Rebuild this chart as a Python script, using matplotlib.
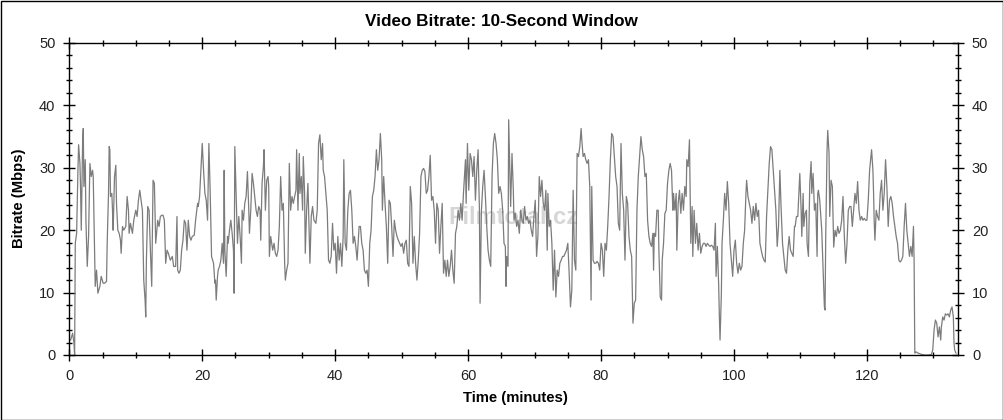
import matplotlib
matplotlib.use("Agg")
import matplotlib.pyplot as plt
from matplotlib.ticker import MultipleLocator
from matplotlib.patches import Rectangle

plt.rcParams['font.family'] = ['Liberation Sans', 'DejaVu Sans']

# bitrate samples (minutes, Mbps)
time_min = [
    0.2, 0.5, 0.7, 0.8, 0.9, 1.1, 1.3, 1.4, 1.6, 1.7,
    1.8, 2.0, 2.1, 2.2, 2.4, 2.5, 2.7, 2.9, 3.1, 3.3,
    3.5, 3.6, 3.7, 3.9, 4.1, 4.3, 4.6, 4.8, 5.1, 5.3,
    5.6, 5.7, 5.9, 6.0, 6.1, 6.2, 6.4, 6.5, 6.6, 6.8,
    7.0, 7.1, 7.3, 7.5, 7.7, 7.8, 8.0, 8.2, 8.5, 8.7,
    8.9, 9.0, 9.2, 9.5, 9.7, 10.0, 10.2, 10.4, 10.6, 10.8,
    11.0, 11.2, 11.4, 11.5, 11.6, 11.8, 12.0, 12.2, 12.4, 12.6,
    12.8, 13.0, 13.3, 13.5, 13.7, 13.9, 14.1, 14.3, 14.5, 14.7,
    14.9, 15.2, 15.5, 15.7, 16.0, 16.2, 16.3, 16.5, 16.7, 16.9,
    17.1, 17.3, 17.5, 17.7, 17.9, 18.1, 18.3, 18.5, 18.8, 19.0,
    19.3, 19.4, 19.6, 19.8, 20.0, 20.2, 20.4, 20.6, 20.8, 21.0,
    21.2, 21.4, 21.7, 21.9,
    22.0, 22.1, 22.3, 22.4, 22.6, 22.8, 23.0, 23.2, 23.3, 23.4,
    23.6, 23.8, 23.9, 24.1, 24.3, 24.5, 24.7, 24.8, 24.9, 25.1,
    25.3, 25.5, 25.7, 25.9, 26.0, 26.2, 26.4, 26.6, 26.8, 27.0,
    27.1, 27.3, 27.5, 27.7, 27.9, 28.1, 28.3, 28.5, 28.7, 28.8,
    29.0, 29.2, 29.3, 29.5, 29.7, 29.9, 30.0, 30.1, 30.3, 30.6,
    30.8, 31.0, 31.2, 31.4, 31.6, 31.8, 32.0, 32.2, 32.4, 32.5,
    32.7, 32.9, 33.1, 33.3, 33.5, 33.7, 33.9, 34.1, 34.2, 34.4,
    34.6, 34.7, 34.9, 35.1, 35.2, 35.4, 35.5, 35.7, 35.9, 36.1,
    36.2, 36.4, 36.6, 36.8, 37.1, 37.3, 37.5, 37.7, 37.9, 38.1,
    38.2, 38.4, 38.6, 38.8, 39.0, 39.2, 39.4, 39.6, 39.8, 40.0,
    40.2, 40.4, 40.6, 40.8, 41.0, 41.2, 41.3, 41.5, 41.7, 41.9,
    42.1, 42.3, 42.5, 42.7, 42.9, 43.1, 43.3, 43.6,
    43.8, 44.0, 44.2, 44.4, 44.6, 44.8, 45.0, 45.2, 45.4, 45.6,
    45.8, 46.0, 46.2, 46.4, 46.6, 46.8, 47.0, 47.1, 47.3, 47.5,
    47.7, 47.9, 48.1, 48.3, 48.5, 48.7, 48.9, 49.1, 49.3, 49.5,
    49.7, 49.9, 50.1, 50.3, 50.5, 50.7, 50.9, 51.1, 51.3, 51.5,
    51.7, 51.9, 52.1, 52.3, 52.5, 52.7, 52.9, 53.1, 53.3, 53.5,
    53.7, 53.9, 54.1, 54.3, 54.5, 54.7, 54.9, 55.1, 55.3, 55.5,
    55.7, 55.9, 56.1, 56.3, 56.5, 56.7, 56.9, 57.1, 57.3, 57.5,
    57.7, 57.9, 58.1, 58.3, 58.5, 58.7, 58.9, 59.1, 59.3, 59.6,
    59.7, 59.9, 60.1, 60.3, 60.5, 60.7, 60.9, 61.1, 61.3, 61.5,
    61.7, 61.8, 62.0, 62.2, 62.4, 62.6, 62.8, 63.0, 63.2, 63.4,
    63.6, 63.8, 64.0, 64.2, 64.4, 64.6, 64.8, 65.0, 65.2, 65.4,
    65.6,
    65.7, 65.8, 66.0, 66.1, 66.3, 66.4, 66.6, 66.8, 66.9, 67.1,
    67.3, 67.5, 67.7, 67.9, 68.1, 68.3, 68.5, 68.7, 68.9, 69.1,
    69.3, 69.5, 69.7, 69.9, 70.1, 70.3, 70.5, 70.7, 70.9, 71.1,
    71.3, 71.5, 71.7, 71.9, 72.0, 72.2, 72.4, 72.6, 72.8, 73.0,
    73.2, 73.4, 73.6, 73.8, 74.0, 74.2, 74.4, 74.6, 74.8, 75.0,
    75.2, 75.4, 75.6, 75.8, 76.0, 76.2, 76.4, 76.6, 76.8, 77.0,
    77.1, 77.3, 77.5, 77.7, 77.9, 78.1, 78.3, 78.5, 78.6, 78.8,
    79.0, 79.2, 79.4, 79.6, 79.8, 80.0, 80.2, 80.4, 80.6, 80.8,
    81.0, 81.2, 81.4, 81.6, 81.8, 82.0, 82.2, 82.4, 82.6, 82.8,
    83.0, 83.2, 83.4, 83.6, 83.8, 84.0, 84.2, 84.4, 84.6, 84.8,
    85.0, 85.2, 85.4, 85.6, 85.8, 86.0, 86.2, 86.4, 86.6, 86.8,
    87.0, 87.2, 87.4,
    87.6, 87.8, 87.9, 88.0, 88.2, 88.4, 88.6, 88.7, 88.9, 89.1,
    89.2, 89.4, 89.6, 89.8, 90.0, 90.2, 90.4, 90.6, 90.8, 90.9,
    91.1, 91.3, 91.4, 91.6, 91.8, 92.0, 92.2, 92.4, 92.6, 92.8,
    92.9, 93.1, 93.3, 93.4, 93.5, 93.7, 93.8, 94.0, 94.2, 94.4,
    94.6, 94.8, 95.0, 95.2, 95.4, 95.6, 95.8, 96.0, 96.2, 96.4,
    96.6, 96.8, 97.0, 97.2, 97.3, 97.5, 97.7, 97.8, 97.9, 98.1,
    98.2, 98.4, 98.6, 98.8, 99.0, 99.2, 99.4, 99.6, 99.8, 100.0,
    100.2, 100.4, 100.6, 100.8, 101.0, 101.2, 101.4, 101.6, 101.8, 101.9,
    102.1, 102.3, 102.5, 102.7, 102.9, 103.1, 103.3, 103.5, 103.7, 103.9,
    104.1, 104.3, 104.5, 104.7, 104.9, 105.1, 105.3, 105.5, 105.7, 105.9,
    106.1, 106.3, 106.5, 106.7, 106.9, 107.1, 107.3, 107.5, 107.7, 107.9,
    108.1, 108.3, 108.5, 108.7, 108.9, 109.1,
    109.2, 109.4, 109.6, 109.8, 109.9, 110.1, 110.2, 110.4, 110.5, 110.7,
    110.9, 111.0, 111.2, 111.4, 111.6, 111.7, 111.9, 112.1, 112.3, 112.5,
    112.6, 112.7, 112.9, 113.0, 113.2, 113.4, 113.6, 113.7, 113.8, 114.0,
    114.1, 114.3, 114.4, 114.6, 114.8, 115.0, 115.2, 115.4, 115.6, 115.8,
    116.0, 116.2, 116.4, 116.6, 116.8, 117.0, 117.2, 117.4, 117.6, 117.8,
    118.0, 118.2, 118.4, 118.6, 118.8, 119.0, 119.2, 119.4, 119.6, 119.8,
    120.0, 120.2, 120.4, 120.6, 120.7, 120.9, 121.0, 121.1, 121.2, 121.4,
    121.6, 121.8, 122.0, 122.2, 122.4, 122.6, 122.8, 123.0, 123.2, 123.4,
    123.6, 123.8, 124.0, 124.2, 124.4, 124.6, 124.8, 125.0, 125.2, 125.4,
    125.6, 125.8, 126.0, 126.2, 126.4, 126.6, 126.8, 127.0, 127.1, 127.2,
    127.4, 127.7, 128.2, 128.7, 129.2, 129.7, 129.9, 130.1, 130.3, 130.5,
    130.7, 130.9, 131.1, 131.2, 131.4, 131.6, 131.8, 132.0, 132.2, 132.4,
    132.6, 132.8, 133.0, 133.1, 133.2, 133.4,
]

bitrate_mbps = [
    2.4, 3.5, 1.9, 0, 17.9, 19.5, 29.6, 33.7, 30.7, 26.4,
    20, 33.9, 36.3, 27, 31.3, 21.6, 14.2, 19, 30.7, 28.6,
    29.6, 28.6, 22.7, 11, 13.6, 9.9, 11, 12.6, 11.5, 11.5,
    11.8, 17.9, 25.9, 33.4, 32.9, 25.4, 25.9, 23.2, 20, 28.6,
    30.4, 24.3, 20, 19.5, 18.4, 16.3, 20.6, 20, 20.6, 25.4,
    23.2, 19.5, 21.1, 19.5, 21.6, 23.2, 22.2, 24.8, 26.4, 24.8,
    23.2, 12, 8.8, 6.1, 15.2, 23.8, 23.2, 16.8, 11, 28,
    27.5, 17.9, 21.6, 20.6, 22.2, 22.4, 22.4, 21.6, 14.7, 16.8,
    16.3, 15.2, 15.8, 14.2, 14.2, 22.2, 13.6, 13.1, 13.6, 16.8,
    18.4, 21.6, 21.1, 16.8, 21.6, 19, 18.4, 19, 19.2, 21.6,
    24.3, 23.8, 25.4, 29.6, 33.9, 29.6, 25.9, 24.8, 21.6, 33.9,
    25.9, 15.8, 14.7, 11.5,
    12, 8.8, 12.6, 13.6, 14.2, 15.2, 17.9, 14.7, 29.6, 16.8,
    12.6, 19, 17.9, 20, 21.6, 19.5, 16.8, 9.9, 33.4, 25.9,
    17.9, 22.2, 19, 14.7, 23.2, 21.6, 24.3, 25.4, 29.4, 23.2,
    19.5, 23.2, 29.1, 27.5, 25.4, 23.2, 22.2, 23.8, 23.2, 18.4,
    27.5, 30.2, 32.9, 23.2, 28, 28.6, 27, 15.8, 19, 16.8,
    17.9, 16.3, 15.8, 16.8, 20.6, 28.6, 23.2, 24.3, 14.7, 12,
    13.6, 14.7, 30.7, 23.2, 25.4, 24.3, 25.4, 26.4, 32.9, 23.2,
    32.3, 25.9, 28.6, 23.2, 31.8, 25.9, 16.3, 23.2, 27.5, 19,
    14.7, 22.2, 23.8, 21.6, 21.1, 23.2, 33.9, 35.3, 31.3, 33.9,
    29.6, 28.6, 25.9, 23.2, 15.2, 14.7, 15.8, 21.1, 16.8, 17.9,
    13.1, 19, 15.2, 17.9, 14.2, 19, 31.3, 17.9, 16.8, 23.2,
    25.9, 26.4, 23.2, 17.9, 19, 17.4, 15.2, 20.6,
    20.6, 17.9, 16.8, 13.6, 13.1, 13.6, 11, 17.9, 20, 25.4,
    26.4, 28.6, 32.9, 29.6, 31.3, 35.5, 31.3, 23.2, 28.6, 24.3,
    20.6, 14.7, 24.8, 24.3, 20.6, 15.8, 21.6, 20, 19, 18.4,
    17.9, 17.4, 17.9, 16.3, 17.9, 18.4, 14.7, 14.2, 27, 24.3,
    14.7, 19, 14.7, 12, 15.2, 19.5, 28.6, 29.6, 29.9, 29.4,
    25.9, 26.4, 28.6, 32, 24.8, 25.4, 23.2, 17.9, 24.3, 23.2,
    16.3, 20.6, 24.3, 13.1, 15.2, 12.6, 15.2, 12.6, 14.2, 16.8,
    13.6, 11.5, 19.5, 20.6, 23.2, 21.6, 24.3, 21.6, 25.9, 31.3,
    24.3, 33.9, 26.4, 32.3, 31.3, 28.6, 31.8, 24.8, 29.6, 32.9,
    23.2, 8.3, 23.2, 27, 29.6, 25.4, 20.6, 16.8, 15.2, 14.2,
    28.6, 33.9, 35.5, 33.9, 31.3, 25.9, 27, 25.9, 23.2, 17.9,
    17.4,
    11, 15.8, 14.2, 37.7, 28.6, 23.8, 32.3, 26.4, 21.6, 22.7,
    20.6, 21.6, 19.5, 23.2, 21.6, 21.1, 23.8, 21.6, 22.2, 21.1,
    21.6, 20, 19, 22.2, 24.8, 15.8, 19, 28.6, 25.4, 28,
    24.3, 23.2, 26.4, 16.8, 25.9, 20.6, 21.6, 17.9, 10.4, 16.8,
    9.3, 13.6, 12.6, 14.7, 15.2, 15.8, 15.8, 16.3, 16.8, 17.9,
    13.1, 7.7, 10.4, 26.4, 15.2, 13.6, 32.3, 31.8, 33.4, 36.3,
    34.5, 31.8, 32.3, 31.3, 30.7, 31.3, 27, 8.8, 27, 15.2,
    14.7, 14.7, 15, 14.7, 13.6, 17.9, 16.8, 12.6, 17.9, 16.8,
    20.6, 25.4, 31.3, 35.5, 35, 31.8, 28.6, 27, 21.1, 20,
    33.9, 25.9, 23.2, 15.2, 25.4, 24.3, 19, 16.8, 15.8, 5.1,
    8.3, 8.8, 23.2, 28.6, 31.8, 35, 32.9, 31.8, 28.6, 29.1,
    21.6, 19, 17.9,
    17.4, 19.5, 13.6, 19.5, 19, 23.2, 23.2, 16.8, 9.3, 8.8,
    15.2, 17.9, 22.7, 23.2, 27.5, 29.6, 30.7, 29.6, 23.2, 25.9,
    23.2, 25.9, 16.8, 24.3, 26.4, 22.7, 25.9, 23.2, 27, 25.4,
    31.3, 30.2, 34.5, 25.9, 17.9, 23.8, 15.8, 23.2, 17.9, 21.1,
    16.8, 19.5, 16.3, 17.4, 17.9, 17.9, 17.4, 17.9, 17.6, 17.4,
    17.6, 17.4, 16.8, 21.1, 12.6, 17.4, 11, 6.1, 2.4, 9.9,
    17.9, 21.6, 25.9, 23.2, 27.8, 24.3, 17.9, 15.2, 12.6, 16.8,
    18.4, 14.7, 13.1, 14.7, 13.6, 14.2, 17.9, 20, 25.9, 28,
    25.4, 24.3, 23.2, 21.1, 23.8, 21.6, 24.3, 22.2, 23.2, 17.9,
    16.8, 15.8, 15.2, 14.9, 22.2, 26.4, 30.7, 33.4, 32.9, 29.6,
    26.4, 23.2, 17.4, 20.6, 29.6, 23.2, 17.9, 15.8, 13.6, 13.1,
    16.8, 19, 16.8, 16.3, 15.8, 20.6,
    20.6, 22.2, 22.2, 27, 29.1, 23.2, 19, 25.9, 20.6, 22.7,
    23.2, 17.9, 15.8, 27.5, 31, 25.9, 29.1, 23.2, 24.3, 15.8,
    25.9, 26.4, 24.8, 23.2, 20, 13.6, 7.7, 7.2, 19, 32.9,
    36, 32.3, 22.2, 28, 27, 17.3, 20, 19, 20.6, 19.5,
    20, 21.6, 25.4, 19, 14.7, 17.9, 23.2, 23.8, 23.8, 20.6,
    23.2, 25.9, 24.3, 27.8, 23.2, 21.6, 22.2, 21.6, 21.9, 21.6,
    21.6, 24.8, 29.6, 31.8, 32.9, 29.6, 25.9, 21.1, 18.4, 23.2,
    22.2, 21.6, 25.9, 28, 23.2, 25.9, 31.3, 27, 20.6, 24.8,
    25.4, 24.3, 22.2, 20.6, 19, 17.9, 15.2, 14.9, 15.2, 15.8,
    20.6, 24.3, 20, 17.9, 15.8, 17.4, 15.8, 20.6, 14.7, 0.3,
    0.5, 0.3, 0.1, 0, 0, 0.1, 0.8, 4, 5.6, 5.1,
    2.9, 4.5, 2.4, 4.5, 6.1, 5.6, 6.6, 6.4, 6.6, 6.1,
    7.2, 7.7, 6.1, 1.9, 0.8, 0.3,
]

x_major = 20
x_minor = 5
y_major = 10
y_minor = 2

W, H = 1004, 420
fig = plt.figure(figsize=(W / 100, H / 100), dpi=100)
ax = fig.add_axes([69.3 / W, 1 - 355 / H, (958 - 69.3) / W, (355 - 43) / H])

ax.plot(time_min, bitrate_mbps, color='#7c7c7c', lw=0.9)

ax.set_xlim(0, 133.7)
ax.set_ylim(0, 50)
ax.xaxis.set_major_locator(MultipleLocator(x_major))
ax.xaxis.set_minor_locator(MultipleLocator(x_minor))
ax.yaxis.set_major_locator(MultipleLocator(y_major))
ax.yaxis.set_minor_locator(MultipleLocator(y_minor))

ax.tick_params(which='both', direction='inout', top=True, right=True,
               labelright=True, labelsize=10.5, colors='black',
               labelcolor='#222222', width=1)
ax.tick_params(which='major', length=8, pad=6)
ax.tick_params(which='minor', length=4)
for s in ax.spines.values():
    s.set_linewidth(1)
    s.set_color('black')

# faint site watermark in the middle of the plot
ax.text(0.50, 0.44, 'Filmtotal.cz', transform=ax.transAxes, ha='center',
        va='center', fontsize=17, fontweight='bold', color='#bbbbbb',
        alpha=0.6, zorder=0)

fig.text(501.5 / W, 1 - 21 / H, 'Video Bitrate: 10-Second Window',
         ha='center', va='center', fontsize=12.3, fontweight='bold')
fig.text(515.5 / W, 1 - 398 / H, 'Time (minutes)', ha='center',
         va='center', fontsize=10.7, fontweight='bold')
fig.text(19 / W, 1 - 198 / H, 'Bitrate (Mbps)', ha='center', va='center',
         rotation=90, fontsize=10.7, fontweight='bold')

fig.patches.append(Rectangle((0.5 / W, 0.5 / H), 1 - 1.5 / W, 1 - 1.5 / H,
                             transform=fig.transFigure, fill=False,
                             edgecolor='black', lw=1))

fig.savefig('out.png', dpi=100)
